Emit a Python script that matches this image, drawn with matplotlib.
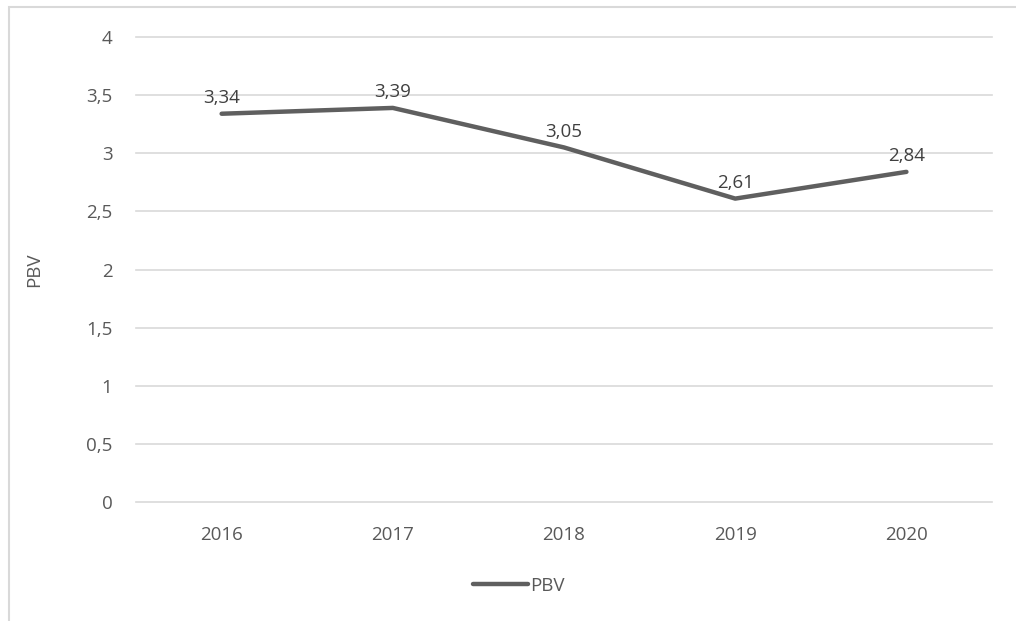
import matplotlib.pyplot as plt
from matplotlib.patches import Rectangle

years = ["2016", "2017", "2018", "2019", "2020"]
pbv = [3.34, 3.39, 3.05, 2.61, 2.84]
yticks = [0, 0.5, 1, 1.5, 2, 2.5, 3, 3.5, 4]

plt.rcParams['font.family'] = ['Open Sans', 'DejaVu Sans']
txt = '#595959'

fig = plt.figure(figsize=(10.16, 6.21), dpi=100)
ax = fig.add_axes([0.1339, 0.1916, 0.8425, 0.7488])

x = list(range(len(years)))
ax.plot(x, pbv, color='#5f5f5f', lw=3.2, solid_capstyle='round', label='PBV', zorder=3)
for xi, v in zip(x, pbv):
    ax.annotate(f"{v:.2f}".replace('.', ','), (xi, v), xytext=(0, 5), textcoords='offset points',
                ha='center', va='bottom', fontsize=13.5, color='#404040', zorder=4)

ax.set_xlim(-0.5, len(years) - 0.5)
ax.set_ylim(0, 4)
ax.set_yticks(yticks)
ax.set_yticklabels([f"{t:g}".replace('.', ',') for t in yticks])
ax.set_xticks(x)
ax.set_xticklabels(years)
ax.tick_params(length=0, labelsize=13.5, colors=txt)
ax.tick_params(axis='y', pad=17)
ax.tick_params(axis='x', pad=17)
ax.grid(axis='y', color='#d9d9d9', lw=1.2)
for gl in ax.get_ygridlines():
    gl.set_clip_on(False)
ax.set_axisbelow(True)
for s in ax.spines.values():
    s.set_visible(False)
ax.set_ylabel('PBV', fontsize=13.5, color=txt, labelpad=31)

leg = fig.legend(loc='center', bbox_to_anchor=(0.511, 1 - 586 / 621), frameon=False,
                 fontsize=13.5, handlelength=2.9, handletextpad=0.15, labelcolor=txt)

fig.patches.append(Rectangle((9 / 1016, -0.1), 1.2, 1 - 7 / 621 + 0.1, transform=fig.transFigure,
                             fill=False, edgecolor='#d9d9d9', lw=1.5))

fig.savefig('out.png', dpi=100)
